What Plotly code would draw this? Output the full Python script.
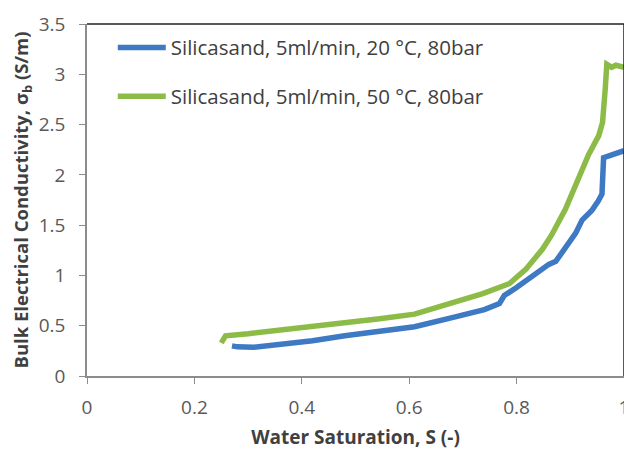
import plotly.graph_objects as go

# Data
s_20C = [0.27, 0.28, 0.31, 0.36, 0.42, 0.48, 0.54, 0.61, 0.68, 0.74, 0.768, 0.777,
         0.80, 0.83, 0.86, 0.873, 0.91, 0.922, 0.94, 0.952, 0.959, 0.962, 0.983, 1.0]
sigma_20C = [0.30, 0.29, 0.285, 0.31, 0.35, 0.40, 0.44, 0.49, 0.58, 0.66, 0.72, 0.80,
             0.88, 1.00, 1.11, 1.14, 1.42, 1.55, 1.645, 1.74, 1.81, 2.17, 2.21, 2.24]

s_50C = [0.25, 0.258, 0.30, 0.36, 0.42, 0.48, 0.545, 0.61, 0.676, 0.737, 0.787, 0.817,
         0.848, 0.865, 0.891, 0.916, 0.934, 0.953, 0.96, 0.965, 0.968, 0.977, 0.985, 1.0]
sigma_50C = [0.33, 0.40, 0.42, 0.455, 0.49, 0.53, 0.57, 0.615, 0.72, 0.82, 0.92, 1.06,
             1.26, 1.40, 1.66, 1.98, 2.20, 2.39, 2.52, 2.85, 3.10, 3.07, 3.09, 3.07]

name_20C = "Silicasand, 5ml/min, 20 °C, 80bar"
name_50C = "Silicasand, 5ml/min, 50 °C, 80bar"

x_ticks = [0, 0.2, 0.4, 0.6, 0.8, 1]
y_ticks = [0, 0.5, 1, 1.5, 2, 2.5, 3, 3.5]

BLUE = "#3E79C4"
GREEN = "#8DBB47"
FONT = "Open Sans"

fig = go.Figure()
fig.add_trace(go.Scatter(x=s_20C, y=sigma_20C, mode="lines", name=name_20C,
                         line=dict(color=BLUE, width=5.5), legend="legend"))
fig.add_trace(go.Scatter(x=s_50C, y=sigma_50C, mode="lines", name=name_50C,
                         line=dict(color=GREEN, width=5.5), legend="legend2"))

legend_common = dict(font=dict(family=FONT, size=20.5, color="#404040"),
                     bgcolor="rgba(0,0,0,0)", xanchor="left", yanchor="middle",
                     itemwidth=48)
fig.update_layout(
    width=624, height=444,
    margin=dict(l=79, r=3, t=8, b=76),
    paper_bgcolor="white", plot_bgcolor="white",
    showlegend=True,
    legend=dict(x=0.048, y=0.933, **legend_common),
    legend2=dict(x=0.048, y=0.794, **legend_common),
    xaxis=dict(range=[0, 1], tickvals=x_ticks, ticktext=[str(v) for v in x_ticks],
               showgrid=False, zeroline=False, showline=True, linecolor="#8C8C8C",
               linewidth=1.5, ticks="outside", ticklen=6, tickcolor="#8C8C8C",
               ticklabelstandoff=7, ticklabeloverflow="allow",
               tickfont=dict(family=FONT, size=19, color="#595959"),
               title=dict(text="<b>Water Saturation, S (-)</b>", standoff=12,
                          font=dict(family=FONT, size=19, color="#404040"))),
    yaxis=dict(range=[0, 3.5], tickvals=y_ticks, ticktext=[f"{v:g}" for v in y_ticks],
               showgrid=False, zeroline=False, showline=True, linecolor="#8C8C8C",
               linewidth=1.5, ticks="outside", ticklen=6, tickcolor="#8C8C8C",
               ticklabelstandoff=10, ticklabeloverflow="allow",
               tickfont=dict(family=FONT, size=19, color="#595959"),
               title=dict(text="<b>Bulk Electrical Conductivity, σ<sub>b</sub> (S/m)</b>",
                          standoff=5,
                          font=dict(family=FONT, size=18.5, color="#404040"))),
    shapes=[
        dict(type="line", xref="paper", yref="paper", x0=0, x1=1, y0=1, y1=1,
             line=dict(color="#222222", width=1.5)),
        dict(type="line", xref="paper", yref="paper", x0=1, x1=1, y0=0, y1=1,
             line=dict(color="#222222", width=1.5)),
    ],
)

fig.write_html("out.html")
